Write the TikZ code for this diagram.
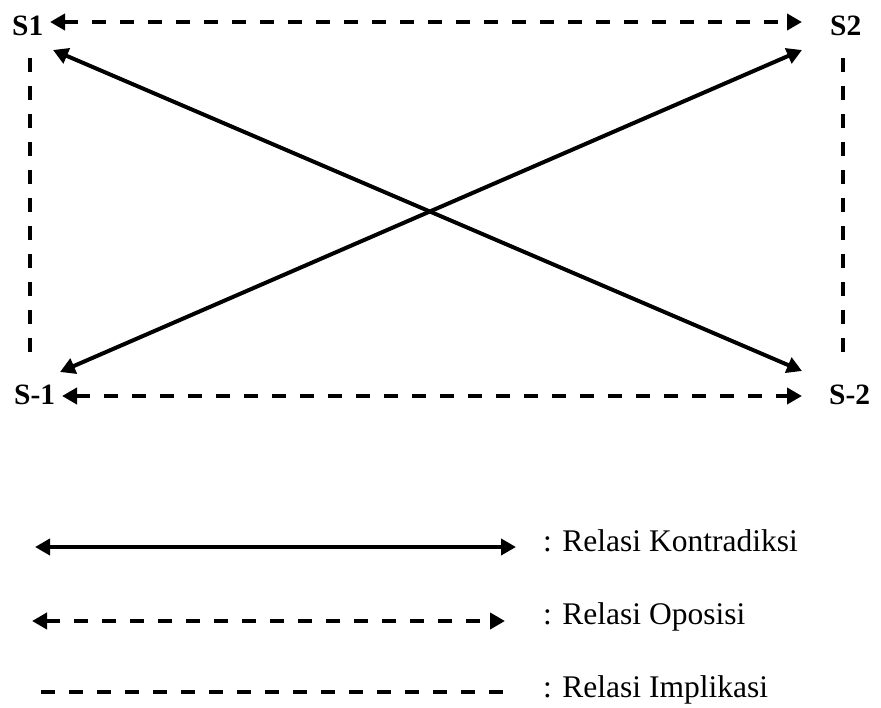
\documentclass[tikz,border=0pt]{standalone}
\usepackage{fontspec}
\setmainfont{Liberation Serif}
\usetikzlibrary{arrows.meta}
\begin{document}
\begin{tikzpicture}[x=1pt,y=-1pt,
  lbl/.style={font=\fontsize{29.5}{34}\selectfont\bfseries,inner sep=0pt},
  leg/.style={font=\fontsize{31.5}{36}\selectfont,inner sep=0pt,anchor=base west},
  contra/.style={line width=4pt,{Triangle[length=15pt,width=16pt]}-{Triangle[length=15pt,width=16pt]}},
  oppos/.style={line width=4.2pt,dash pattern=on 14pt off 14pt,{Triangle[length=15pt,width=16pt]}-{Triangle[length=15pt,width=16pt]}},
  impl/.style={line width=4.2pt,dash pattern=on 14pt off 14pt}]
\useasboundingbox (0,0) rectangle (881,707);
% labels
\node[lbl,anchor=base west] (s1) at (12,35) {S1};
\node[lbl,anchor=base west] (s2) at (830,35) {S2};
\node[lbl,anchor=base west] (sm1) at (14,404) {S-1};
\node[lbl,anchor=base west] (sm2) at (829,404) {S-2};
% endpoints
\coordinate (t1) at (50,22);
\coordinate (t2) at (802,22);
\coordinate (b1) at (62,396);
\coordinate (b2) at (802,396);
\coordinate (d1a) at (53,50);
\coordinate (d1b) at (802,371);
\coordinate (d2a) at (60,372);
\coordinate (d2b) at (802,50);
\coordinate (l1) at (30,58);
\coordinate (l2) at (30,354);
\coordinate (r1) at (843,58);
\coordinate (r2) at (843,354);
% relations
\draw[oppos] (t1) -- (t2);
\draw[oppos] (b1) -- (b2);
\draw[contra] (d1a) -- (d1b);
\draw[contra] (d2a) -- (d2b);
\draw[impl] (l1) -- (l2);
\draw[impl] (r1) -- (r2);
% legend
\coordinate (k1) at (35,547);
\coordinate (k2) at (516,547);
\coordinate (o1) at (32,621);
\coordinate (o2) at (505,621);
\coordinate (i1) at (41,692);
\coordinate (i2) at (505,692);
\draw[contra] (k1) -- (k2);
\draw[oppos] (o1) -- (o2);
\draw[impl] (i1) -- (i2);
\node[leg] (lk) at (543,551) {: Relasi Kontradiksi};
\node[leg] (lo) at (543,624) {: Relasi Oposisi};
\node[leg] (li) at (543,697) {: Relasi Implikasi};
\end{tikzpicture}
\end{document}
